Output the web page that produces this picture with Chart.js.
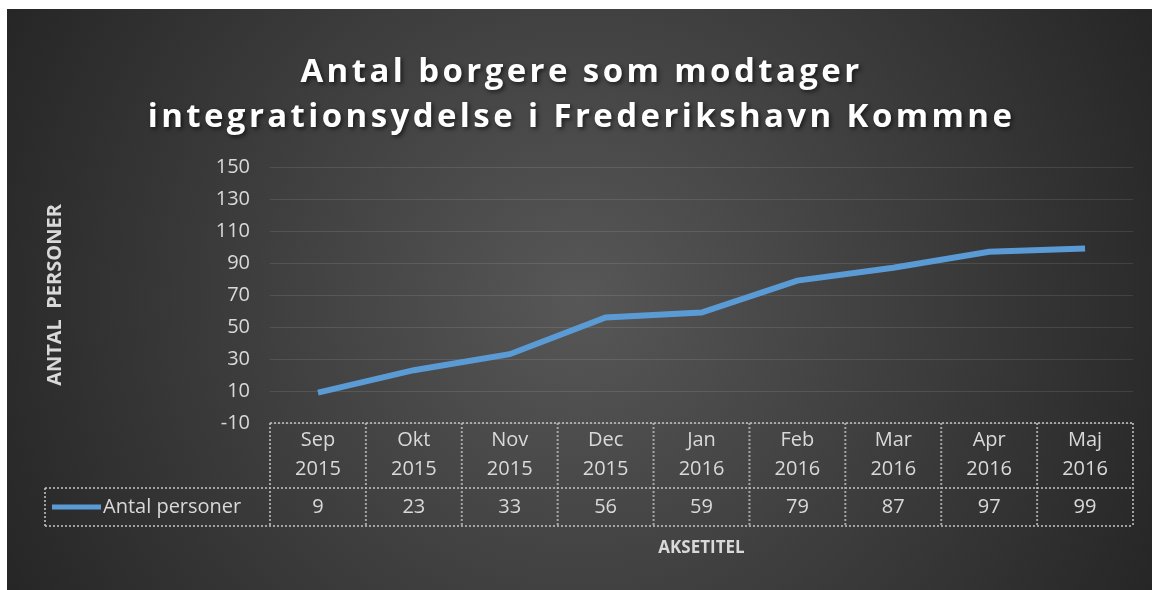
<!DOCTYPE html>
<html>
<head>
<meta charset="utf-8">
<script src="https://cdn.jsdelivr.net/npm/chart.js@4.4.1/dist/chart.umd.min.js"></script>
<style>
  html, body { margin: 0; background: #ffffff; overflow: hidden; }
  #wrap { position: absolute; left: 7px; top: 9px; width: 1145px; height: 581px; }
</style>
</head>
<body>
<div id="wrap"><canvas id="chart"></canvas></div>
<script>
const chartTitle = ["Antal borgere som modtager", "integrationsydelse i Frederikshavn Kommne"];
const months = [
  ["Sep", "2015"], ["Okt", "2015"], ["Nov", "2015"], ["Dec", "2015"],
  ["Jan", "2016"], ["Feb", "2016"], ["Mar", "2016"], ["Apr", "2016"], ["Maj", "2016"]
];
const seriesName = "Antal personer";
const antalPersoner = [9, 23, 33, 56, 59, 79, 87, 97, 99];
const yMin = -10;
const yMax = 150;
const yStep = 20;
const yTitle = "ANTAL  PERSONER";
const xTitle = "AKSETITEL";

const textColor = "#d9d9d9";
const lineColor = "#5b9bd5";
const font = "'Open Sans', 'Liberation Sans', sans-serif";

// dark radial backdrop like the office "style" theme
const backdrop = {
  id: "backdrop",
  beforeDraw(chart) {
    const { ctx, width, height } = chart;
    const g = ctx.createRadialGradient(width / 2, height / 2, 0, width / 2, height / 2, 640);
    g.addColorStop(0, "#575757");
    g.addColorStop(1, "#262626");
    ctx.save();
    ctx.fillStyle = g;
    ctx.fillRect(0, 0, width, height);
    ctx.restore();
  }
};

// spaced title + data table under the axis
const extras = {
  id: "extras",
  afterDraw(chart) {
    const { ctx, chartArea } = chart;
    const x = chart.scales.x;
    const colW = x.getPixelForValue(1) - x.getPixelForValue(0);

    ctx.save();
    ctx.fillStyle = "#ffffff";
    ctx.font = "bold 33px " + font;
    ctx.letterSpacing = "3.4px";
    ctx.textAlign = "center";
    ctx.textBaseline = "middle";
    ctx.shadowColor = "rgba(0,0,0,0.6)";
    ctx.shadowBlur = 4;
    ctx.shadowOffsetX = 2;
    ctx.shadowOffsetY = 2;
    chartTitle.forEach((t, i) => ctx.fillText(t, chart.width / 2 + 2, 64 + i * 45));
    ctx.restore();

    const headTop = chartArea.bottom;
    const rowTop = headTop + 65;
    const rowBot = rowTop + 38;
    const legendLeft = 38;

    ctx.save();
    ctx.strokeStyle = "rgba(190,190,190,0.8)";
    ctx.lineWidth = 2;
    ctx.setLineDash([2, 2]);
    const seg = (x1, y1, x2, y2) => {
      ctx.beginPath();
      ctx.moveTo(x1, y1);
      ctx.lineTo(x2, y2);
      ctx.stroke();
    };
    seg(chartArea.left, headTop, chartArea.right, headTop);
    seg(legendLeft, rowTop, chartArea.right, rowTop);
    seg(legendLeft, rowBot, chartArea.right, rowBot);
    seg(legendLeft, rowTop, legendLeft, rowBot);
    for (let i = 0; i <= months.length; i++) {
      const px = x.getPixelForValue(i) - colW / 2;
      seg(px, headTop, px, rowBot);
    }
    ctx.setLineDash([]);

    const mid = (rowTop + rowBot) / 2;
    ctx.strokeStyle = lineColor;
    ctx.lineWidth = 5;
    seg(45, mid, 94, mid);

    ctx.fillStyle = textColor;
    ctx.font = "20px " + font;
    ctx.textBaseline = "middle";
    ctx.textAlign = "left";
    ctx.fillText(seriesName, 96, mid);
    ctx.textAlign = "center";
    antalPersoner.forEach((v, i) => ctx.fillText(String(v), x.getPixelForValue(i), mid));
    ctx.restore();
  }
};

new Chart(document.getElementById("chart"), {
  type: "line",
  data: {
    labels: months,
    datasets: [{
      label: seriesName,
      data: antalPersoner,
      borderColor: lineColor,
      backgroundColor: lineColor,
      borderWidth: 6,
      pointRadius: 0,
      tension: 0
    }]
  },
  options: {
    responsive: true,
    maintainAspectRatio: false,
    animation: false,
    layout: { padding: { top: 158, right: 19, left: 0, bottom: 0 } },
    plugins: {
      legend: { display: false },
      title: { display: false },
      tooltip: { enabled: false }
    },
    scales: {
      x: {
        offset: true,
        afterFit(scale) { scale.height = 167; },
        grid: { display: false },
        border: { display: false },
        ticks: {
          color: textColor,
          padding: -5,
          maxRotation: 0,
          font: { family: font, size: 20, lineHeight: 1.45 }
        },
        title: {
          display: true,
          text: xTitle,
          color: textColor,
          font: { family: font, size: 17, weight: "bold" },
          padding: { top: 0, bottom: 32 }
        }
      },
      y: {
        min: yMin,
        max: yMax,
        afterFit(scale) { scale.width = 263; },
        grid: { color: "rgba(255,255,255,0.1)", drawTicks: false },
        border: { display: false },
        ticks: {
          stepSize: yStep,
          color: textColor,
          padding: 20,
          font: { family: font, size: 20 }
        },
        title: {
          display: true,
          text: yTitle,
          color: textColor,
          font: { family: font, size: 20, weight: "bold" },
          padding: { top: 36, bottom: 0 }
        }
      }
    }
  },
  plugins: [backdrop, extras]
});
</script>
</body>
</html>
